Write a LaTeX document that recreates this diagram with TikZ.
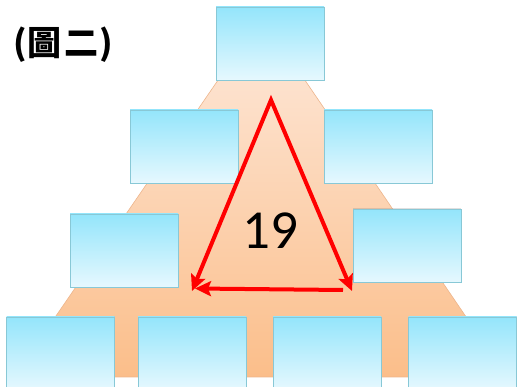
\documentclass[tikz,border=0pt]{standalone}
\usepackage{fontspec}
\newfontfamily\cjkfont{Noto Sans CJK TC}
\newfontfamily\numfont{Carlito}
\usetikzlibrary{arrows.meta,shadows}
\definecolor{boxtop}{HTML}{94E5FB}
\definecolor{boxbot}{HTML}{E6F8FE}
\definecolor{boxedge}{HTML}{88C8D6}
\definecolor{pyrtop}{HTML}{FDE3D0}
\definecolor{pyrbot}{HTML}{FBBE8A}
\definecolor{pyredge}{HTML}{EDB58C}
\definecolor{arrred}{HTML}{FF0000}
\tikzset{
  cell/.style={draw=boxedge, line width=0.9pt, top color=boxtop, bottom color=boxbot,
    minimum width=108pt, minimum height=73pt, inner sep=0pt,
    drop shadow={shadow xshift=0pt, shadow yshift=1.2pt, opacity=0.25, fill=gray}},
  redtip/.tip={Stealth[length=16pt,width=15pt,inset=3pt]},
  redline/.style={draw=arrred, line width=4pt, miter limit=10},
}
\begin{document}
\begin{tikzpicture}[x=1pt,y=1pt]
\useasboundingbox (0,0) rectangle (518,387);
\clip (0,0) rectangle (518,387);
% pyramid
\path[draw=pyredge, line width=0.6pt, top color=pyrtop, bottom color=pyrbot]
  (225,317) -- (298,317) -- (507,10) -- (14,10) -- cycle;
% title
\node[anchor=west, inner sep=0pt] (title) at (13,342)
  {\cjkfont\bfseries\fontsize{34}{40}\selectfont (\hspace{1pt}圖\hspace{3pt}二\hspace{1pt})};
% boxes
\node[cell] (t)  at (270,343.5) {};
\node[cell] (l2) at (184,240.5) {};
\node[cell] (r2) at (378,240.5) {};
\node[cell] (l3) at (124,136.5) {};
\node[cell] (r3) at (407,141) {};
\node[cell] (b1) at (60.5,33.5) {};
\node[cell] (b2) at (192,33.5) {};
\node[cell] (b3) at (327,33.5) {};
\node[cell] (b4) at (462.5,33.5) {};
% number
\node[inner sep=0pt] (num) at (270,156) {\numfont\fontsize{55}{60}\selectfont 19};
% arrows
\coordinate (apex) at (271,287);
\coordinate (lt) at (192,96);
\coordinate (rt) at (352,96);
\coordinate (hs) at (343,97);
\coordinate (he) at (195,98.5);
\draw[redline, redtip-redtip] (lt) -- (apex) -- (rt);
\draw[redline, -redtip] (hs) -- (he);
\end{tikzpicture}
\end{document}
